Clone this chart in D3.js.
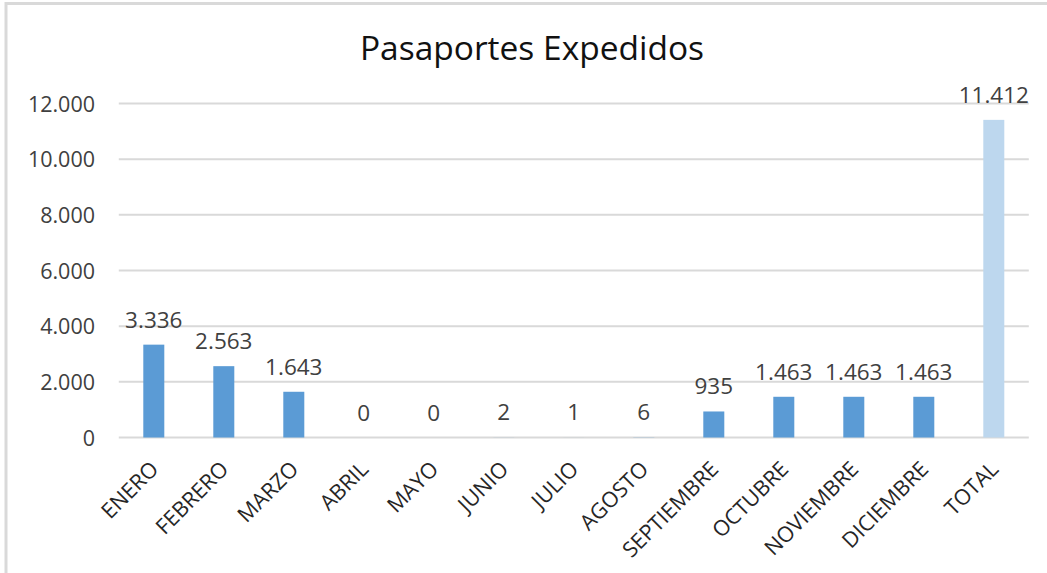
<!DOCTYPE html>
<html>
<head>
<meta charset="utf-8">
<script src="https://cdn.jsdelivr.net/npm/d3@7"></script>
<style>
  html, body { margin: 0; padding: 0; background: #fff; }
  svg { display: block; font-family: "Open Sans", "Noto Sans", sans-serif; }
</style>
</head>
<body>
<svg id="chart" width="1047" height="573"></svg>
<script>
// Monthly passport counts plus the yearly total
const categories = ["ENERO", "FEBRERO", "MARZO", "ABRIL", "MAYO", "JUNIO", "JULIO",
  "AGOSTO", "SEPTIEMBRE", "OCTUBRE", "NOVIEMBRE", "DICIEMBRE", "TOTAL"];
const values = [3336, 2563, 1643, 0, 0, 2, 1, 6, 935, 1463, 1463, 1463, 11412];
const yTicks = [0, 2000, 4000, 6000, 8000, 10000, 12000];
const title = "Pasaportes Expedidos";

const svg = d3.select("#chart");
const W = 1047, H = 573;

// Chart frame (top and left edges visible)
svg.append("line").attr("x1", 5).attr("x2", W).attr("y1", 3.5).attr("y2", 3.5)
  .attr("stroke", "#d9d9d9").attr("stroke-width", 3);
svg.append("line").attr("x1", 6).attr("x2", 6).attr("y1", 2).attr("y2", H)
  .attr("stroke", "#d9d9d9").attr("stroke-width", 3);

const x = d3.scaleBand()
  .domain(categories)
  .range([118.8, 1028.8])
  .paddingInner(0.7)
  .paddingOuter(0.35);

const y = d3.scaleLinear()
  .domain([0, 12000])
  .range([437.5, 103.5]);

// es-style thousands separator
const fmt = v => d3.format(",")(v).replace(/,/g, ".");

// Title
svg.append("text")
  .attr("x", 532).attr("y", 60)
  .attr("text-anchor", "middle")
  .attr("font-size", 33.5)
  .attr("fill", "#111")
  .text(title);

// Gridlines
svg.append("g")
  .selectAll("line")
  .data(yTicks)
  .join("line")
  .attr("x1", 118.8).attr("x2", 1028.8)
  .attr("y1", d => y(d)).attr("y2", d => y(d))
  .attr("stroke", "#d9d9d9").attr("stroke-width", 2);

// Y axis labels
const yAxis = d3.axisLeft(y).tickValues(yTicks).tickFormat(fmt).tickSize(0).tickPadding(0);
const gy = svg.append("g").attr("transform", "translate(95,0)").call(yAxis);
gy.select(".domain").remove();
gy.selectAll("text")
  .attr("font-size", 21.5)
  .attr("font-family", "\"Open Sans\", \"Noto Sans\", sans-serif")
  .attr("fill", "#404040")
  .attr("dy", "0.35em");

// Bars
svg.append("g")
  .selectAll("rect")
  .data(categories)
  .join("rect")
  .attr("x", d => x(d))
  .attr("width", x.bandwidth())
  .attr("y", (d, i) => y(values[i]))
  .attr("height", (d, i) => y(0) - y(values[i]))
  .attr("fill", d => d === "TOTAL" ? "#bdd7ee" : "#5b9bd5");

// Value labels
svg.append("g")
  .selectAll("text")
  .data(categories)
  .join("text")
  .attr("x", d => x(d) + x.bandwidth() / 2)
  .attr("y", (d, i) => y(values[i]) - 17)
  .attr("text-anchor", "middle")
  .attr("font-size", 22.5)
  .attr("fill", "#404040")
  .text((d, i) => fmt(values[i]));

// Rotated category labels
const xAxis = d3.axisBottom(x).tickSize(0).tickPadding(0);
const gx = svg.append("g").attr("transform", "translate(0,437.5)").call(xAxis);
gx.select(".domain").remove();
gx.selectAll("text")
  .attr("font-size", 21.5)
  .attr("font-family", "\"Open Sans\", \"Noto Sans\", sans-serif")
  .attr("fill", "#262626")
  .attr("text-anchor", "end")
  .attr("y", 0)
  .attr("dy", 0)
  .attr("transform", "translate(6,33) rotate(-45)");
</script>
</body>
</html>
